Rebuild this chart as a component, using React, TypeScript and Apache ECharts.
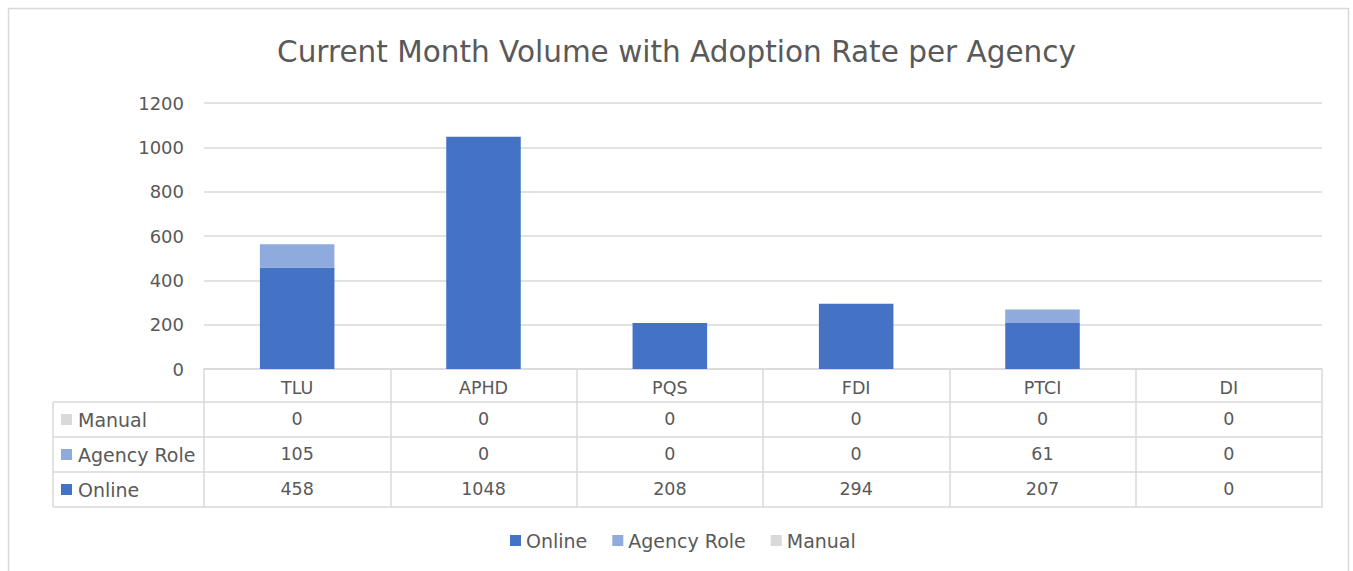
import React, { useEffect, useRef } from "react";
import * as echarts from "echarts";

const categories = ["TLU", "APHD", "PQS", "FDI", "PTCI", "DI"];
const onlineValues = [458, 1048, 208, 294, 207, 0];
const agencyRoleValues = [105, 0, 0, 0, 61, 0];
const manualValues = [0, 0, 0, 0, 0, 0];
const yTicks = { min: 0, max: 1200, interval: 200 };

const TITLE = "Current Month Volume with Adoption Rate per Agency";
const FONT = "'DejaVu Sans', sans-serif";
const TXT = "#595959";
const LINE = "#d9d9d9";
const C_ONLINE = "#4472C4";
const C_AGENCY = "#8FAADC";
const C_MANUAL = "#D9D9D9";

const W = 1353;
const H = 571;
const GL = 204;
const GR = 1322;
const GT = 103;
const GB = 369;
const ROW = 35;

export default function App() {
  const ref = useRef<HTMLDivElement>(null);
  useEffect(() => {
    document.body.style.margin = "0";
    const chart = echarts.init(ref.current!, null, { renderer: "svg" });

    const rows = [
      { name: "Manual", values: manualValues, color: C_MANUAL },
      { name: "Agency Role", values: agencyRoleValues, color: C_AGENCY },
      { name: "Online", values: onlineValues, color: C_ONLINE },
    ];

    const rowAxes = rows.map((r, i) => ({
      type: "category" as const,
      data: categories,
      position: "bottom" as const,
      offset: ROW * (i + 1) - 2,
      axisLine: { show: true, lineStyle: { color: LINE, width: 1.5 } },
      axisTick: { show: false },
      axisLabel: {
        interval: 0,
        margin: 8,
        color: TXT,
        fontSize: 17.5,
        fontFamily: FONT,
        formatter: (_v: string, idx: number) => String(r.values[idx]),
      },
    }));

    const tableTop = GB;
    const tableBottom = GB + ROW * 4 - 2;

    const graphics: any[] = [
      {
        type: "rect",
        shape: { x: 8.5, y: 8.5, width: 1340, height: 600 },
        style: { fill: "none", stroke: LINE, lineWidth: 1.5 },
        silent: true,
      },
      {
        type: "line",
        shape: { x1: 53, y1: tableTop + ROW - 2, x2: 53, y2: tableBottom },
        style: { stroke: LINE, lineWidth: 1.5 },
      },
    ];
    for (let i = 1; i <= 4; i++) {
      const y = tableTop + ROW * i - 2;
      graphics.push({
        type: "line",
        shape: { x1: 53, y1: y, x2: GL, y2: y },
        style: { stroke: LINE, lineWidth: 1.5 },
      });
    }
    rows.forEach((r, i) => {
      const yc = tableTop + ROW * (i + 1) - 2 + ROW / 2;
      graphics.push({
        type: "rect",
        shape: { x: 61, y: yc - 5.5, width: 11, height: 11 },
        style: { fill: r.color },
      });
      graphics.push({
        type: "text",
        x: 78,
        y: yc,
        style: {
          text: r.name,
          fill: TXT,
          font: `19px ${FONT}`,
          verticalAlign: "middle",
          align: "left",
        },
      });
    });

    chart.setOption({
      animation: false,
      backgroundColor: "#fff",
      title: {
        text: TITLE,
        left: "center",
        top: 32,
        textStyle: { color: TXT, fontSize: 29.5, fontWeight: "normal", fontFamily: FONT },
      },
      legend: {
        bottom: 16,
        left: 505,
        itemWidth: 11,
        itemHeight: 11,
        itemGap: 25,
        icon: "rect",
        textStyle: { color: TXT, fontSize: 19, fontFamily: FONT, padding: [0, 0, 0, 0] },
        data: ["Online", "Agency Role", "Manual"],
      },
      grid: { left: GL, right: W - GR, top: GT, bottom: H - GB, containLabel: false },
      xAxis: [
        {
          type: "category",
          data: categories,
          position: "bottom",
          axisLine: { show: true, lineStyle: { color: LINE, width: 1.5 } },
          axisTick: { show: true, interval: 0, length: tableBottom - GB, lineStyle: { color: LINE, width: 1.5 } },
          axisLabel: { interval: 0, margin: 10, color: TXT, fontSize: 17.5, fontFamily: FONT },
        },
        ...rowAxes,
        {
          type: "category",
          data: categories,
          position: "bottom",
          offset: ROW * 4 - 2,
          axisLine: { show: true, lineStyle: { color: LINE, width: 1.5 } },
          axisTick: { show: false },
          axisLabel: { show: false },
        },
      ],
      yAxis: {
        type: "value",
        min: yTicks.min,
        max: yTicks.max,
        interval: yTicks.interval,
        axisLine: { show: false },
        axisTick: { show: false },
        splitLine: { lineStyle: { color: LINE, width: 1.5 } },
        axisLabel: {
          color: TXT,
          fontSize: 18,
          fontFamily: FONT,
          margin: 20,
          formatter: (v: number) => String(v),
        },
      },
      series: [
        { name: "Online", type: "bar", stack: "total", data: onlineValues, itemStyle: { color: C_ONLINE }, barWidth: "40%" },
        { name: "Agency Role", type: "bar", stack: "total", data: agencyRoleValues, itemStyle: { color: C_AGENCY }, barWidth: "40%" },
        { name: "Manual", type: "bar", stack: "total", data: manualValues, itemStyle: { color: C_MANUAL }, barWidth: "40%" },
      ],
      graphic: graphics,
    });
    return () => chart.dispose();
  }, []);
  return <div ref={ref} style={{ width: W, height: H }} />;
}
